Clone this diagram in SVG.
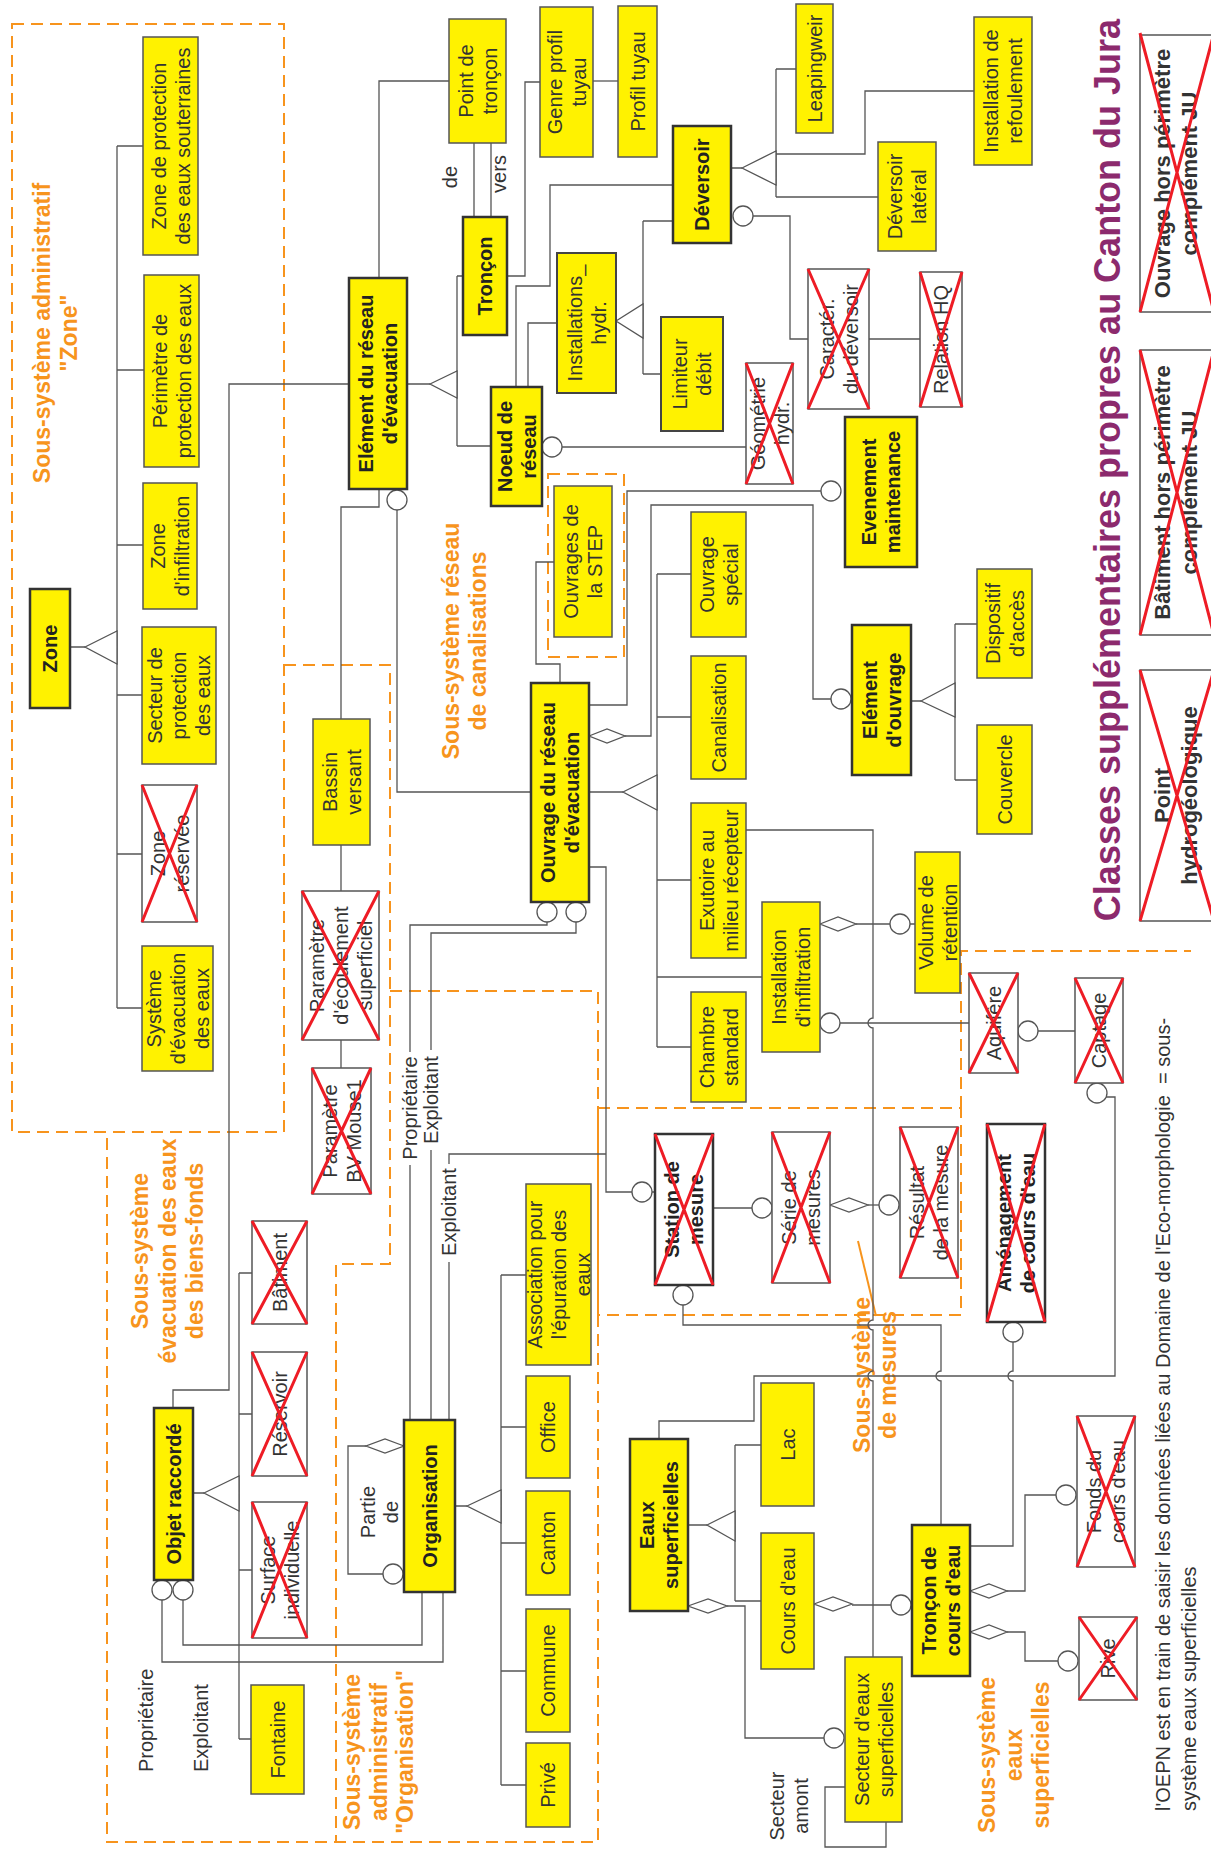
<svg xmlns="http://www.w3.org/2000/svg" width="1211" height="1850" viewBox="0 0 1211 1850">
<style>
.y{fill:#FFF200;stroke:#555;stroke-width:1.5}
.yb{fill:#FFF200;stroke:#333;stroke-width:2.5}
.x{fill:#fff;stroke:#555;stroke-width:1.5}
.xb{fill:#fff;stroke:#333;stroke-width:2.5}
.rx{stroke:#EE1C25;stroke-width:3;fill:none}
text{font-family:"Liberation Sans",Arial,Helvetica,sans-serif}
.t{font-size:20px;fill:#333;text-anchor:middle}
.tb{font-size:20px;fill:#222;text-anchor:middle;font-weight:bold}
.lg{font-size:22px;fill:#333;text-anchor:middle;font-weight:bold}
.ls{font-size:20px;fill:#333;text-anchor:start}
.o{font-size:23px;fill:#F7941D;text-anchor:middle;font-weight:bold}
.ti{font-size:36px;fill:#8C2A6D;text-anchor:middle;font-weight:bold}
.c{fill:none;stroke:#555;stroke-width:1.3}
.w{fill:#fff;stroke:#555;stroke-width:1.3}
.d{fill:none;stroke:#F7941D;stroke-width:2;stroke-dasharray:12 7}
</style>
<rect width="1211" height="1850" fill="#fff"/>

<g id="subsystems">
<rect class="d" x="12" y="24" width="272" height="1108"/>
<path class="d" d="M284,665H390V1264H336V1842"/>
<path class="d" d="M390,991H598V1842H107V1132"/>
<rect class="d" x="598" y="1108" width="363" height="207"/>
<path class="d" d="M961,1108V951H1191"/>
<rect class="d" x="548" y="474" width="76" height="183"/>
<line x1="858" y1="1241" x2="876" y2="1316" stroke="#F7941D" stroke-width="2"/>
<text class="o" transform="translate(50,333) rotate(-90)"><tspan x="0" y="0">Sous-système administratif</tspan><tspan x="0" y="27">"Zone"</tspan></text>
<text class="o" transform="translate(459,641) rotate(-90)"><tspan x="0" y="0">Sous-système réseau</tspan><tspan x="0" y="27">de canalisations</tspan></text>
<text class="o" transform="translate(148,1251) rotate(-90)"><tspan x="0" y="0">Sous-système</tspan><tspan x="0" y="28">évacuation des eaux</tspan><tspan x="0" y="55">des biens-fonds</tspan></text>
<text class="o" transform="translate(360,1752) rotate(-90)"><tspan x="0" y="0">Sous-système</tspan><tspan x="0" y="27">administratif</tspan><tspan x="0" y="53">"Organisation"</tspan></text>
<text class="o" transform="translate(870,1375) rotate(-90)"><tspan x="0" y="0">Sous-système</tspan><tspan x="0" y="26">de mesures</tspan></text>
<text class="o" transform="translate(995,1755) rotate(-90)"><tspan x="0" y="0">Sous-système</tspan><tspan x="0" y="27">eaux</tspan><tspan x="0" y="54">superficielles</tspan></text>
<text class="ti" transform="translate(1120,470) rotate(-90)">Classes supplémentaires propres au Canton du Jura</text>
<text class="ls" transform="translate(1170,1811) rotate(-90)"><tspan x="0" y="0">l'OEPN est en train de saisir les données liées au Domaine de l'Eco-morphologie&#160; = sous-</tspan><tspan x="0" y="26">système eaux superficielles</tspan></text>
</g>

<g id="connectors">
<path class="c" d="M70,647H85 M117,146V1008 M117,146H143 M117,370H144 M117,545H143 M117,695H142 M117,854H142 M117,1008H142"/>
<polygon class="w" points="85,647 117,631 117,664"/>
<path class="c" d="M349,384H229V1390H173V1408"/>
<path class="c" d="M379,278V81H449"/>
<path class="c" d="M474,143V217 M491,143V217"/>
<path class="c" d="M407,384H430 M457,276V446 M457,276H463 M457,446H491"/>
<polygon class="w" points="430,384 457,371 457,398"/>
<path class="c" d="M507,276H525V82H540"/>
<path class="c" d="M593,81H618"/>
<path class="c" d="M562,447H746"/>
<circle class="w" cx="552" cy="447" r="10"/>
<path class="c" d="M516,387V286H550V185H673"/>
<path class="c" d="M528,387V323H557"/>
<path class="c" d="M643,221V374 M643,221H673 M643,374H661"/>
<polygon class="w" points="616,321 643,304 643,338"/>
<path class="c" d="M753,216H790V339H808"/>
<circle class="w" cx="743" cy="216" r="10"/>
<path class="c" d="M731,168H742 M776,69V197 M776,69H796 M776,197H878 M776,154H865V91H974"/>
<polygon class="w" points="742,168 776,151 776,185"/>
<path class="c" d="M869,339H920"/>
<path class="c" d="M379,489V507H341V719"/>
<path class="c" d="M397,510V792H531"/>
<circle class="w" cx="397" cy="500" r="10"/>
<path class="c" d="M341,845V891 M341,1040V1068"/>
<path class="c" d="M554,562H536V664H560V683"/>
<path class="c" d="M589,705H627V491H821"/>
<circle class="w" cx="831" cy="491" r="10"/>
<path class="c" d="M625,736H651V505H813V699H831"/>
<polygon class="w" points="589,736 607,729 625,736 607,743"/>
<circle class="w" cx="841" cy="699" r="10"/>
<path class="c" d="M589,792H623 M657,574V1047 M657,574H691 M657,717H691 M657,880H691 M657,977H762 M657,1047H691"/>
<polygon class="w" points="623,792 657,775 657,810"/>
<path class="c" d="M746,830H873V1018A5,5 0 0 0 873,1028V1320A5,5 0 0 0 873,1330V1371A5,5 0 0 0 873,1381V1657"/>
<path class="c" d="M911,701H921 M955,624V780 M955,624H977 M955,780H977"/>
<polygon class="w" points="921,701 955,683 955,717"/>
<path class="c" d="M856,924H890 M910,924H915"/>
<polygon class="w" points="820,924 838,917 856,924 838,931"/>
<circle class="w" cx="900" cy="924" r="10"/>
<path class="c" d="M840,1023H969"/>
<circle class="w" cx="830" cy="1023" r="10"/>
<path class="c" d="M1038,1031H1075"/>
<circle class="w" cx="1028" cy="1031" r="10"/>
<path class="c" d="M1106,1097H1115V1376H754V1421H659V1439"/>
<circle class="w" cx="1097" cy="1093" r="10"/>
<path class="c" d="M589,867H606V1192H632 M652,1192H655"/>
<circle class="w" cx="642" cy="1192" r="10"/>
<path class="c" d="M547,922V925H410V1052 M410,1165V1420"/>
<path class="c" d="M576,922V933H431V1050 M431,1150V1420"/>
<circle class="w" cx="547" cy="912" r="10"/>
<circle class="w" cx="576" cy="912" r="10"/>
<path class="c" d="M606,1154H449V1164 M449,1262V1420"/>
<path class="c" d="M683,1305V1325H941V1371A5,5 0 0 0 941,1381V1525"/>
<circle class="w" cx="683" cy="1295" r="10"/>
<path class="c" d="M713,1208H752"/>
<circle class="w" cx="762" cy="1208" r="10"/>
<path class="c" d="M868,1205H879"/>
<polygon class="w" points="830,1205 849,1198 868,1205 849,1212"/>
<circle class="w" cx="889" cy="1205" r="10"/>
<path class="c" d="M1013,1342V1371A5,5 0 0 0 1013,1381V1546H970"/>
<circle class="w" cx="1013" cy="1332" r="10"/>
<path class="c" d="M193,1493H204 M239,1273V1739 M239,1273H252 M239,1414H252 M239,1570H252 M239,1739H251"/>
<polygon class="w" points="204,1493 239,1476 239,1511"/>
<path class="c" d="M162,1600V1662H443V1592 M183,1600V1645H422V1592"/>
<circle class="w" cx="162" cy="1590" r="10"/>
<circle class="w" cx="183" cy="1590" r="10"/>
<path class="c" d="M366,1446H348V1574H383"/>
<polygon class="w" points="404,1446 385,1439 366,1446 385,1453"/>
<circle class="w" cx="393" cy="1574" r="10"/>
<path class="c" d="M455,1506H467 M501,1275V1785 M501,1275H526 M501,1427H526 M501,1543H526 M501,1671H526 M501,1785H526"/>
<polygon class="w" points="467,1506 501,1490 501,1523"/>
<path class="c" d="M688,1525H707 M735,1445V1601 M735,1445H761 M735,1601H761"/>
<polygon class="w" points="707,1525 735,1511 735,1541"/>
<path class="c" d="M727,1606H745V1738H824"/>
<polygon class="w" points="688,1606 708,1599 727,1606 708,1613"/>
<circle class="w" cx="834" cy="1738" r="10"/>
<path class="c" d="M852,1605H891"/>
<polygon class="w" points="814,1604 833,1597 852,1604 833,1611"/>
<circle class="w" cx="901" cy="1605" r="10"/>
<path class="c" d="M845,1787H825V1847H886V1822"/>
<path class="c" d="M1007,1591H1025V1495H1056 M1007,1632H1025V1661H1058"/>
<polygon class="w" points="970,1591 989,1584 1007,1591 989,1598"/>
<polygon class="w" points="970,1632 989,1625 1007,1632 989,1639"/>
<circle class="w" cx="1066" cy="1495" r="10"/>
<circle class="w" cx="1068" cy="1661" r="10"/>
<text class="t" transform="translate(457,177) rotate(-90)" text-anchor="middle">de</text>
<text class="t" transform="translate(506,174) rotate(-90)">vers</text>
<text class="t" transform="translate(417,1108) rotate(-90)">Propriétaire</text>
<text class="t" transform="translate(438,1100) rotate(-90)">Exploitant</text>
<text class="t" transform="translate(456,1212) rotate(-90)">Exploitant</text>
<text class="t" transform="translate(375,1512) rotate(-90)"><tspan x="0" y="0">Partie</tspan><tspan x="0" y="23">de</tspan></text>
<text class="ls" transform="translate(153,1772) rotate(-90)">Propriétaire</text>
<text class="ls" transform="translate(208,1772) rotate(-90)">Exploitant</text>
<text class="t" transform="translate(784,1806) rotate(-90)"><tspan x="0" y="0">Secteur</tspan><tspan x="0" y="24">amont</tspan></text>
</g>

<g id="zone_prot_sout"><rect class="y" x="143" y="37" width="55" height="218"/><text class="t" transform="translate(170.5,146) rotate(-90)"><tspan x="0" y="-5">Zone de protection</tspan><tspan x="0" y="19">des eaux souterraines</tspan></text></g>
<g id="perimetre"><rect class="y" x="144" y="275" width="55" height="192"/><text class="t" transform="translate(171.5,371) rotate(-90)"><tspan x="0" y="-5">Périmètre de</tspan><tspan x="0" y="19">protection des eaux</tspan></text></g>
<g id="zone_infiltration"><rect class="y" x="143" y="483" width="54" height="126"/><text class="t" transform="translate(170,546) rotate(-90)"><tspan x="0" y="-5">Zone</tspan><tspan x="0" y="19">d'infiltration</tspan></text></g>
<g id="secteur_prot"><rect class="y" x="142" y="627" width="74" height="137"/><text class="t" transform="translate(179,695.5) rotate(-90)"><tspan x="0" y="-17">Secteur de</tspan><tspan x="0" y="7">protection</tspan><tspan x="0" y="31">des eaux</tspan></text></g>
<g id="zone_reservee"><rect class="x" x="142" y="785" width="55" height="137"/><text class="t" transform="translate(169.5,853.5) rotate(-90)"><tspan x="0" y="-5">Zone</tspan><tspan x="0" y="19">réservée</tspan></text><path class="rx" d="M142,785L197,922M197,785L142,922"/></g>
<g id="systeme_evac"><rect class="y" x="142" y="946" width="71" height="125"/><text class="t" transform="translate(177.5,1008.5) rotate(-90)"><tspan x="0" y="-17">Système</tspan><tspan x="0" y="7">d'évacuation</tspan><tspan x="0" y="31">des eaux</tspan></text></g>
<g id="zone"><rect class="yb" x="30" y="589" width="40" height="119"/><text class="tb" transform="translate(50,648.5) rotate(-90)"><tspan x="0" y="7">Zone</tspan></text></g>
<g id="element_reseau"><rect class="yb" x="349" y="278" width="58" height="211"/><text class="tb" transform="translate(378,383.5) rotate(-90)"><tspan x="0" y="-5">Elément du réseau</tspan><tspan x="0" y="19">d'évacuation</tspan></text></g>
<g id="point_troncon"><rect class="y" x="449" y="19" width="57" height="124"/><text class="t" transform="translate(477.5,81) rotate(-90)"><tspan x="0" y="-5">Point de</tspan><tspan x="0" y="19">tronçon</tspan></text></g>
<g id="troncon"><rect class="yb" x="463" y="217" width="44" height="118"/><text class="tb" transform="translate(485,276) rotate(-90)"><tspan x="0" y="7">Tronçon</tspan></text></g>
<g id="genre_profil"><rect class="y" x="540" y="7" width="53" height="150"/><text class="t" transform="translate(566.5,82) rotate(-90)"><tspan x="0" y="-5">Genre profil</tspan><tspan x="0" y="19">tuyau</tspan></text></g>
<g id="profil_tuyau"><rect class="y" x="618" y="6" width="39" height="151"/><text class="t" transform="translate(637.5,81.5) rotate(-90)"><tspan x="0" y="7">Profil tuyau</tspan></text></g>
<g id="noeud"><rect class="yb" x="491" y="387" width="51" height="119"/><text class="tb" transform="translate(516.5,446.5) rotate(-90)"><tspan x="0" y="-5">Noeud de</tspan><tspan x="0" y="19">réseau</tspan></text></g>
<g id="installations_hydr"><rect class="y" x="557" y="253" width="59" height="140" style="stroke:#444;stroke-width:2"/><text class="t" transform="translate(586.5,323) rotate(-90)"><tspan x="0" y="-5">Installations_</tspan><tspan x="0" y="19">hydr.</tspan></text></g>
<g id="limiteur"><rect class="y" x="661" y="317" width="62" height="114" style="stroke:#444;stroke-width:2"/><text class="t" transform="translate(692,374) rotate(-90)"><tspan x="0" y="-5">Limiteur</tspan><tspan x="0" y="19">débit</tspan></text></g>
<g id="deversoir"><rect class="yb" x="673" y="126" width="58" height="117"/><text class="tb" transform="translate(702,184.5) rotate(-90)"><tspan x="0" y="7">Déversoir</tspan></text></g>
<g id="leapingweir"><rect class="y" x="796" y="4" width="37" height="129"/><text class="t" transform="translate(814.5,68.5) rotate(-90)"><tspan x="0" y="7">Leapingweir</tspan></text></g>
<g id="install_refoul"><rect class="y" x="974" y="17" width="58" height="148"/><text class="t" transform="translate(1003,91) rotate(-90)"><tspan x="0" y="-5">Installation de</tspan><tspan x="0" y="19">refoulement</tspan></text></g>
<g id="deversoir_lateral"><rect class="y" x="878" y="142" width="58" height="109"/><text class="t" transform="translate(907,196.5) rotate(-90)"><tspan x="0" y="-5">Déversoir</tspan><tspan x="0" y="19">latéral</tspan></text></g>
<g id="caracter"><rect class="x" x="808" y="269" width="61" height="140"/><text class="t" transform="translate(838.5,339) rotate(-90)"><tspan x="0" y="-5">Caractér.</tspan><tspan x="0" y="19">du déversoir</tspan></text><path class="rx" d="M808,269L869,409M869,269L808,409"/></g>
<g id="relation_hq"><rect class="x" x="920" y="272" width="42" height="135"/><text class="t" transform="translate(941,339.5) rotate(-90)"><tspan x="0" y="7">Relation HQ</tspan></text><path class="rx" d="M920,272L962,407M962,272L920,407"/></g>
<g id="geometrie"><rect class="x" x="746" y="363" width="47" height="121"/><text class="t" transform="translate(769.5,423.5) rotate(-90)"><tspan x="0" y="-5">Géométrie</tspan><tspan x="0" y="19">hydr.</tspan></text><path class="rx" d="M746,363L793,484M793,363L746,484"/></g>
<g id="evenement"><rect class="yb" x="845" y="417" width="72" height="150"/><text class="tb" transform="translate(881,492) rotate(-90)"><tspan x="0" y="-5">Evenement</tspan><tspan x="0" y="19">maintenance</tspan></text></g>
<g id="step"><rect class="y" x="554" y="486" width="58" height="151"/><text class="t" transform="translate(583,561.5) rotate(-90)"><tspan x="0" y="-5">Ouvrages de</tspan><tspan x="0" y="19">la STEP</tspan></text></g>
<g id="ouvrage_reseau"><rect class="yb" x="531" y="683" width="58" height="219"/><text class="tb" transform="translate(560,792.5) rotate(-90)"><tspan x="0" y="-5">Ouvrage du réseau</tspan><tspan x="0" y="19">d'évacuation</tspan></text></g>
<g id="ouvrage_special"><rect class="y" x="691" y="512" width="55" height="125"/><text class="t" transform="translate(718.5,574.5) rotate(-90)"><tspan x="0" y="-5">Ouvrage</tspan><tspan x="0" y="19">spécial</tspan></text></g>
<g id="canalisation"><rect class="y" x="691" y="656" width="55" height="123"/><text class="t" transform="translate(718.5,717.5) rotate(-90)"><tspan x="0" y="7">Canalisation</tspan></text></g>
<g id="exutoire"><rect class="y" x="691" y="803" width="55" height="155"/><text class="t" transform="translate(718.5,880.5) rotate(-90)"><tspan x="0" y="-5">Exutoire au</tspan><tspan x="0" y="19">milieu récepteur</tspan></text></g>
<g id="install_infiltr"><rect class="y" x="762" y="902" width="58" height="150"/><text class="t" transform="translate(791,977) rotate(-90)"><tspan x="0" y="-5">Installation</tspan><tspan x="0" y="19">d'infiltration</tspan></text></g>
<g id="chambre"><rect class="y" x="691" y="992" width="55" height="110"/><text class="t" transform="translate(718.5,1047) rotate(-90)"><tspan x="0" y="-5">Chambre</tspan><tspan x="0" y="19">standard</tspan></text></g>
<g id="element_ouvrage"><rect class="yb" x="852" y="625" width="59" height="150"/><text class="tb" transform="translate(881.5,700) rotate(-90)"><tspan x="0" y="-5">Elément</tspan><tspan x="0" y="19">d'ouvrage</tspan></text></g>
<g id="dispositif"><rect class="y" x="977" y="569" width="55" height="109"/><text class="t" transform="translate(1004.5,623.5) rotate(-90)"><tspan x="0" y="-5">Dispositif</tspan><tspan x="0" y="19">d'accès</tspan></text></g>
<g id="couvercle"><rect class="y" x="977" y="725" width="55" height="109"/><text class="t" transform="translate(1004.5,779.5) rotate(-90)"><tspan x="0" y="7">Couvercle</tspan></text></g>
<g id="volume"><rect class="y" x="915" y="852" width="45" height="141"/><text class="t" transform="translate(937.5,922.5) rotate(-90)"><tspan x="0" y="-5">Volume de</tspan><tspan x="0" y="19">rétention</tspan></text></g>
<g id="aquifere"><rect class="x" x="969" y="973" width="49" height="100"/><text class="t" transform="translate(993.5,1023) rotate(-90)"><tspan x="0" y="7">Aquifère</tspan></text><path class="rx" d="M969,973L1018,1073M1018,973L969,1073"/></g>
<g id="captage"><rect class="x" x="1075" y="978" width="48" height="105"/><text class="t" transform="translate(1099,1030.5) rotate(-90)"><tspan x="0" y="7">Captage</tspan></text><path class="rx" d="M1075,978L1123,1083M1123,978L1075,1083"/></g>
<g id="bassin"><rect class="y" x="313" y="719" width="57" height="126"/><text class="t" transform="translate(341.5,782) rotate(-90)"><tspan x="0" y="-5">Bassin</tspan><tspan x="0" y="19">versant</tspan></text></g>
<g id="param_ecoul"><rect class="x" x="302" y="891" width="77" height="149"/><text class="t" transform="translate(340.5,965.5) rotate(-90)"><tspan x="0" y="-17">Paramètre</tspan><tspan x="0" y="7">d'écoulement</tspan><tspan x="0" y="31">superficiel</tspan></text><path class="rx" d="M302,891L379,1040M379,891L302,1040"/></g>
<g id="param_bv"><rect class="x" x="312" y="1068" width="59" height="126"/><text class="t" transform="translate(341.5,1131) rotate(-90)"><tspan x="0" y="-5">Paramètre</tspan><tspan x="0" y="19">BV Mouse1</tspan></text><path class="rx" d="M312,1068L371,1194M371,1068L312,1194"/></g>
<g id="batiment"><rect class="x" x="252" y="1221" width="55" height="103"/><text class="t" transform="translate(279.5,1272.5) rotate(-90)"><tspan x="0" y="7">Bâtiment</tspan></text><path class="rx" d="M252,1221L307,1324M307,1221L252,1324"/></g>
<g id="reservoir"><rect class="x" x="252" y="1352" width="55" height="124"/><text class="t" transform="translate(279.5,1414) rotate(-90)"><tspan x="0" y="7">Réservoir</tspan></text><path class="rx" d="M252,1352L307,1476M307,1352L252,1476"/></g>
<g id="surface"><rect class="x" x="252" y="1502" width="55" height="136"/><text class="t" transform="translate(279.5,1570) rotate(-90)"><tspan x="0" y="-5">Surface</tspan><tspan x="0" y="19">individuelle</tspan></text><path class="rx" d="M252,1502L307,1638M307,1502L252,1638"/></g>
<g id="fontaine"><rect class="y" x="251" y="1685" width="53" height="109"/><text class="t" transform="translate(277.5,1739.5) rotate(-90)"><tspan x="0" y="7">Fontaine</tspan></text></g>
<g id="objet"><rect class="yb" x="154" y="1408" width="39" height="172"/><text class="tb" transform="translate(173.5,1494) rotate(-90)"><tspan x="0" y="7">Objet raccordé</tspan></text></g>
<g id="organisation"><rect class="yb" x="404" y="1420" width="51" height="172"/><text class="tb" transform="translate(429.5,1506) rotate(-90)"><tspan x="0" y="7">Organisation</tspan></text></g>
<g id="association"><rect class="y" x="526" y="1184" width="65" height="181"/><text class="t" transform="translate(558.5,1274.5) rotate(-90)"><tspan x="0" y="-17">Association pour</tspan><tspan x="0" y="7">l'épuration des</tspan><tspan x="0" y="31">eaux</tspan></text></g>
<g id="office"><rect class="y" x="526" y="1376" width="44" height="102"/><text class="t" transform="translate(548,1427) rotate(-90)"><tspan x="0" y="7">Office</tspan></text></g>
<g id="canton"><rect class="y" x="526" y="1491" width="44" height="104"/><text class="t" transform="translate(548,1543) rotate(-90)"><tspan x="0" y="7">Canton</tspan></text></g>
<g id="commune"><rect class="y" x="526" y="1609" width="44" height="123"/><text class="t" transform="translate(548,1670.5) rotate(-90)"><tspan x="0" y="7">Commune</tspan></text></g>
<g id="prive"><rect class="y" x="526" y="1743" width="44" height="84"/><text class="t" transform="translate(548,1785) rotate(-90)"><tspan x="0" y="7">Privé</tspan></text></g>
<g id="station"><rect class="xb" x="655" y="1134" width="58" height="151"/><text class="tb" transform="translate(684,1209.5) rotate(-90)"><tspan x="0" y="-5">Station de</tspan><tspan x="0" y="19">mesure</tspan></text><path class="rx" d="M655,1134L713,1285M713,1134L655,1285"/></g>
<g id="serie"><rect class="x" x="772" y="1132" width="58" height="151"/><text class="t" transform="translate(801,1207.5) rotate(-90)"><tspan x="0" y="-5">Série de</tspan><tspan x="0" y="19">mesures</tspan></text><path class="rx" d="M772,1132L830,1283M830,1132L772,1283"/></g>
<g id="resultat"><rect class="x" x="900" y="1127" width="58" height="151"/><text class="t" transform="translate(929,1202.5) rotate(-90)"><tspan x="0" y="-5">Résultat</tspan><tspan x="0" y="19">de la mesure</tspan></text><path class="rx" d="M900,1127L958,1278M958,1127L900,1278"/></g>
<g id="amenagement"><rect class="xb" x="987" y="1124" width="58" height="198"/><text class="tb" transform="translate(1016,1223) rotate(-90)"><tspan x="0" y="-5">Aménagement</tspan><tspan x="0" y="19">de cours d'eau</tspan></text><path class="rx" d="M987,1124L1045,1322M1045,1124L987,1322"/></g>
<g id="eaux_sup"><rect class="yb" x="630" y="1439" width="58" height="172"/><text class="tb" transform="translate(659,1525) rotate(-90)"><tspan x="0" y="-5">Eaux</tspan><tspan x="0" y="19">superficielles</tspan></text></g>
<g id="lac"><rect class="y" x="761" y="1383" width="53" height="123"/><text class="t" transform="translate(787.5,1444.5) rotate(-90)"><tspan x="0" y="7">Lac</tspan></text></g>
<g id="cours_eau"><rect class="y" x="761" y="1533" width="53" height="136"/><text class="t" transform="translate(787.5,1601) rotate(-90)"><tspan x="0" y="7">Cours d'eau</tspan></text></g>
<g id="troncon_cours"><rect class="yb" x="912" y="1525" width="58" height="151"/><text class="tb" transform="translate(941,1600.5) rotate(-90)"><tspan x="0" y="-5">Tronçon de</tspan><tspan x="0" y="19">cours d'eau</tspan></text></g>
<g id="secteur_eaux"><rect class="y" x="845" y="1657" width="57" height="165"/><text class="t" transform="translate(873.5,1739.5) rotate(-90)"><tspan x="0" y="-5">Secteur d'eaux</tspan><tspan x="0" y="19">superficielles</tspan></text></g>
<g id="fonds"><rect class="x" x="1077" y="1416" width="58" height="151"/><text class="t" transform="translate(1106,1491.5) rotate(-90)"><tspan x="0" y="-5">Fonds du</tspan><tspan x="0" y="19">cours d'eau</tspan></text><path class="rx" d="M1077,1416L1135,1567M1135,1416L1077,1567"/></g>
<g id="rive"><rect class="x" x="1079" y="1617" width="58" height="83"/><text class="t" transform="translate(1108,1658.5) rotate(-90)"><tspan x="0" y="7">Rive</tspan></text><path class="rx" d="M1079,1617L1137,1700M1137,1617L1079,1700"/></g>
<g id="ouvrage_hors"><rect class="x" x="1140" y="35" width="76" height="277"/><text class="lg" transform="translate(1176,173.5) rotate(-90)"><tspan x="0" y="-6">Ouvrage hors périmètre</tspan><tspan x="0" y="21">complément JU</tspan></text><path class="rx" d="M1140,33L1214,312M1214,33L1140,312"/></g>
<g id="batiment_hors"><rect class="x" x="1140" y="350" width="76" height="285"/><text class="lg" transform="translate(1176,492.5) rotate(-90)"><tspan x="0" y="-6">Bâtiment hors périmètre</tspan><tspan x="0" y="21">complément JU</tspan></text><path class="rx" d="M1140,350L1214,635M1214,350L1140,635"/></g>
<g id="point_hydro"><rect class="x" x="1140" y="670" width="76" height="251"/><text class="lg" transform="translate(1176,795.5) rotate(-90)"><tspan x="0" y="-6">Point</tspan><tspan x="0" y="21">hydrogéologique</tspan></text><path class="rx" d="M1140,670L1214,921M1214,670L1140,921"/></g>
</svg>
